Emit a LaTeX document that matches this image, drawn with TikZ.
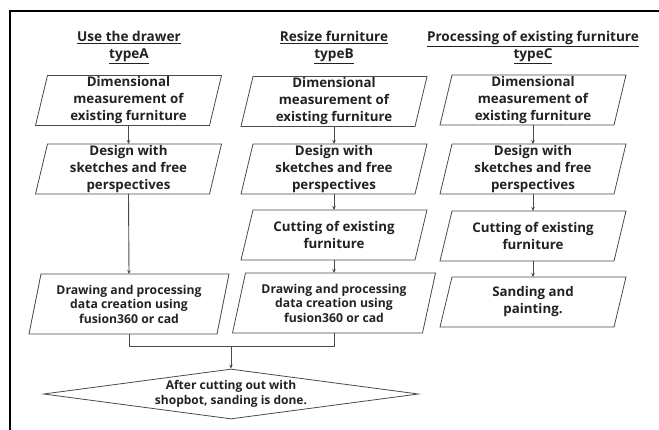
\documentclass[tikz,border=0pt]{standalone}
\usepackage{fontspec}
\setmainfont{Open Sans}
\usetikzlibrary{shapes.geometric,arrows.meta,calc}
\definecolor{ln}{HTML}{4A4A4A}
\definecolor{tx}{HTML}{222222}
\tikzset{
  txt/.style={font=\bfseries\fontsize{13.3}{17}\selectfont, align=center, text=tx},
  smalltxt/.style={font=\bfseries\fontsize{12.2}{14.5}\selectfont, align=center, text=tx},
  pbox/.style={inner sep=0pt, outer sep=0pt, minimum width=174pt, minimum height=50pt},
  boxline/.style={draw=ln, line width=0.8pt},
  conn/.style={draw=ln, line width=0.9pt, -{Stealth[length=4pt,width=3.5pt]}},
  plain/.style={draw=ln, line width=0.9pt},
  title/.style={font=\bfseries\fontsize{13.6}{17}\selectfont, align=center, text=tx},
}
\newcommand\para[2]{\draw[boxline] ([xshift=#2pt]#1.north west) -- ([xshift=#2pt]#1.north east) -- ([xshift=-#2pt]#1.south east) -- ([xshift=-#2pt]#1.south west) -- cycle;}
\newcommand\ul[1]{\underline{#1}}
\begin{document}
\begin{tikzpicture}[x=1pt,y=-1pt]
\useasboundingbox (0,0) rectangle (659,430);
\fill[white] (0,0) rectangle (659,430);
\draw[line width=2pt] (10,430) -- (10,11) -- (659,11);

% titles
\node[title] (ta) at (129,47.5) {\ul{Use the drawer}\\\ul{typeA}};
\node[title] (tb) at (334,47.5) {\ul{Resize furniture}\\\ul{typeB}};
\node[title] (tc) at (533,47.5) {\ul{Processing of existing furniture}\\\ul{typeC}};

% column A
\node[pbox, txt] (a1) at (128.5,100.5) {Dimensional\\measurement of\\existing furniture};
\node[pbox, txt] (a2) at (128.5,169) {Design with\\sketches and free\\perspectives};
\node[pbox, smalltxt, minimum width=188pt, minimum height=60pt] (a4) at (129,304) {Drawing and processing\\data creation using\\fusion360 or cad};

% column B
\node[pbox, txt] (b1) at (334,101.5) {Dimensional\\measurement of\\existing furniture};
\node[pbox, txt] (b2) at (334,169) {Design with\\sketches and free\\perspectives};
\node[pbox, txt] (b3) at (334,235) {Cutting of existing\\furniture};
\node[pbox, smalltxt, minimum width=190pt, minimum height=60pt] (b4) at (334,303) {Drawing and processing\\data creation using\\fusion360 or cad};

% column C
\node[pbox, txt] (c1) at (533,100) {Dimensional\\measurement of\\existing furniture};
\node[pbox, txt] (c2) at (533,169) {Design with\\sketches and free\\perspectives};
\node[pbox, txt] (c3) at (533,236) {Cutting of existing\\furniture};
\node[pbox, txt] (c4) at (533,302) {Sanding and\\painting.};

\foreach \n in {a1,a2,b1,b2,b3,c1,c2,c3,c4} {\para{\n}{6}}
\para{a4}{6}
\para{b4}{6.5}

% diamond
\node[diamond, draw=ln, line width=0.8pt, inner sep=0pt, aspect=7.6,
      minimum width=375pt, minimum height=50pt, smalltxt,
      font=\bfseries\fontsize{12}{14.3}\selectfont] (d) at (231,394)
      {After cutting out with\\shopbot, sanding is done.};

% connectors
\draw[conn] (a1.south) -- (a2.north);
\draw[conn] (a2.south) -- (a4.north);
\draw[conn] (b1.south) -- (b2.north);
\draw[conn] (b2.south) -- (b3.north);
\draw[conn] (b3.south) -- (b4.north);
\draw[conn] (c1.south) -- (c2.north);
\draw[conn] (c2.south) -- (c3.north);
\draw[conn] (c3.south) -- (c4.north);

\coordinate (j) at (231,346);
\draw[plain] (a4.south) |- (j);
\draw[plain] (b4.south) |- (j);
\draw[conn] (j) -- (d.north);
\end{tikzpicture}
\end{document}
